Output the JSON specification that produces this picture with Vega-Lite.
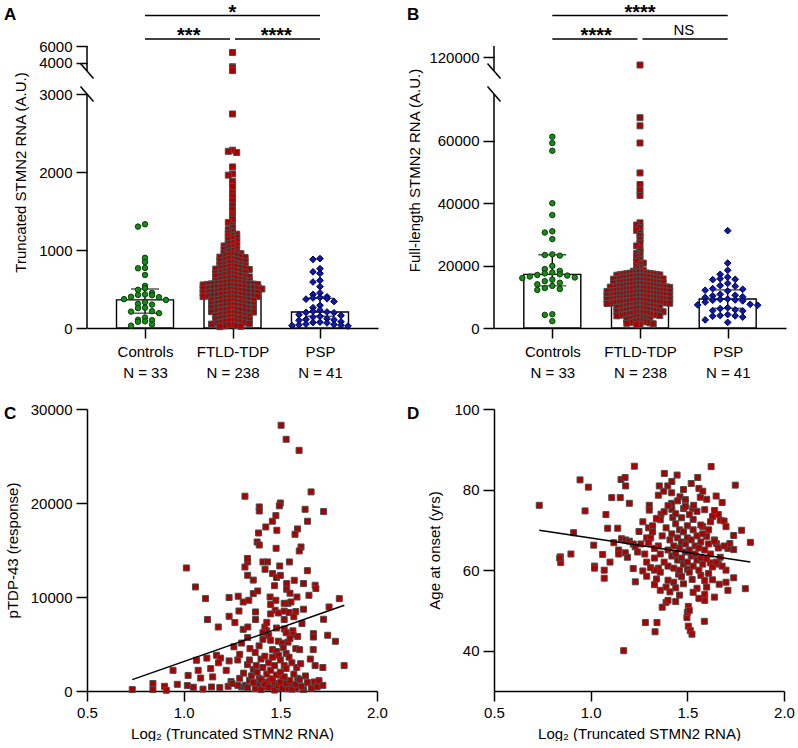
{
"$schema":"https://vega.github.io/schema/vega-lite/v6.json",
"background":"white",
"padding":{"left":4,"top":2,"right":0,"bottom":0},
"config":{"font":"Liberation Sans","view":{"stroke":null},
"axis":{"grid":false,"labelFont":"Liberation Sans","titleFont":"Liberation Sans","labelFontSize":15,"titleFontSize":15,"titleFontWeight":"normal","labelColor":"black","titleColor":"black","tickColor":"black","domainColor":"black","tickWidth":1.5,"domainWidth":1.5,"labelFlush":false,"labelOverlap":false},
"title":{"font":"Liberation Sans","fontSize":17,"fontWeight":"bold","anchor":"start","frame":"group","baseline":"top","offset":-21,"color":"black"},
"text":{"font":"Liberation Sans","color":"black"}},
"datasets":{
"barsA":[{"g":"Controls","med":360,"q1":190,"q3":500},{"g":"FTLD-TDP","med":545,"q1":320,"q3":800},{"g":"PSP","med":205,"q1":150,"q3":380}],
"barsB":[{"g":"Controls","med":17200,"q1":13500,"q3":23500},{"g":"FTLD-TDP","med":11450,"q1":7500,"q3":15500},{"g":"PSP","med":9300,"q1":6300,"q3":12200}],
"aC":[{"v":1330},{"v":1300},{"v":900},{"v":845},{"v":770},{"v":765},{"v":680},{"v":540},{"v":510},{"v":490},{"v":450},{"v":430},{"v":425},{"v":420},{"v":400},{"v":395},{"v":370},{"v":360},{"v":330},{"v":310},{"v":300},{"v":260},{"v":255},{"v":215},{"v":210},{"v":190},{"v":135},{"v":105},{"v":100},{"v":85},{"v":80},{"v":45},{"v":30}],
"aF":[{"v":5235},{"v":3550},{"v":3450},{"v":3100},{"v":2744},{"v":2280},{"v":2265},{"v":2250},{"v":2065},{"v":1975},{"v":1960},{"v":1880},{"v":1815},{"v":1735},{"v":1690},{"v":1630},{"v":1575},{"v":1520},{"v":1460},{"v":1425},
{"v":1395},{"v":1352},{"v":1318},{"v":1290},{"v":1262},{"v":1236},{"v":1214},{"v":1203},
{"v":1188},{"v":1176},{"v":1161},{"v":1147},{"v":1129},{"v":1112},{"v":1095},{"v":1083},{"v":1066},{"v":1052},{"v":1041},{"v":1029},{"v":1013},{"v":1004},
{"v":993},{"v":981},{"v":972},{"v":961},{"v":953},{"v":947},{"v":938},{"v":931},{"v":926},{"v":917},{"v":909},{"v":903},{"v":894},{"v":886},{"v":879},{"v":873},{"v":866},{"v":857},{"v":851},{"v":843},{"v":836},{"v":827},{"v":821},{"v":815},{"v":807},{"v":801},{"v":797},{"v":791},
{"v":786},{"v":779},{"v":775},{"v":767},{"v":763},{"v":755},{"v":751},{"v":744},{"v":739},{"v":735},{"v":727},{"v":723},{"v":715},{"v":711},{"v":704},{"v":699},{"v":695},{"v":687},{"v":683},{"v":675},{"v":671},{"v":664},{"v":659},{"v":655},{"v":647},{"v":643},{"v":637},{"v":631},{"v":626},{"v":619},{"v":615},{"v":607},{"v":603},{"v":597},{"v":595},{"v":589},{"v":585},{"v":581},{"v":577},{"v":575},
{"v":573},{"v":570},{"v":566},{"v":563},{"v":559},{"v":556},{"v":552},{"v":549},{"v":545},{"v":542},{"v":538},{"v":535},{"v":531},{"v":528},{"v":524},{"v":521},{"v":517},{"v":514},{"v":510},{"v":507},{"v":503},{"v":500},{"v":496},{"v":493},{"v":489},{"v":486},{"v":482},{"v":479},{"v":475},{"v":472},{"v":468},{"v":465},{"v":461},{"v":458},{"v":454},{"v":451},{"v":447},{"v":444},{"v":440},{"v":437},{"v":433},{"v":430},{"v":426},{"v":423},{"v":419},{"v":416},{"v":412},{"v":409},{"v":405},{"v":402},
{"v":398},{"v":393},{"v":389},{"v":384},{"v":380},{"v":375},{"v":371},{"v":366},{"v":362},{"v":357},{"v":353},{"v":348},{"v":344},{"v":339},{"v":335},{"v":330},{"v":326},{"v":321},{"v":317},{"v":312},{"v":308},{"v":303},{"v":299},{"v":294},{"v":290},{"v":285},{"v":281},{"v":276},{"v":272},{"v":267},{"v":263},{"v":258},{"v":254},{"v":249},{"v":245},{"v":240},{"v":236},{"v":231},{"v":227},{"v":222},{"v":218},{"v":213},{"v":209},{"v":204},
{"v":198},{"v":193},{"v":187},{"v":182},{"v":176},{"v":171},{"v":165},{"v":160},{"v":154},{"v":149},{"v":143},{"v":138},{"v":132},{"v":127},{"v":121},{"v":116},{"v":110},{"v":105},{"v":99},{"v":94},{"v":88},{"v":83},{"v":77},{"v":72},{"v":66},{"v":61},{"v":55},{"v":50},{"v":44},{"v":39},{"v":33},{"v":28},{"v":22},{"v":17}],
"aP":[{"v":890},{"v":880},{"v":760},{"v":720},{"v":700},{"v":610},{"v":590},{"v":530},{"v":450},{"v":430},{"v":400},{"v":390},{"v":385},{"v":375},{"v":370},{"v":340},{"v":290},{"v":260},{"v":230},{"v":215},{"v":205},{"v":200},{"v":195},{"v":170},{"v":160},{"v":150},{"v":140},{"v":120},{"v":110},{"v":105},{"v":100},{"v":80},{"v":75},{"v":70},{"v":65},{"v":50},{"v":45},{"v":40},{"v":35},{"v":30},{"v":25}],
"bC":[{"v":61300},{"v":59300},{"v":56800},{"v":40000},{"v":36200},{"v":31000},{"v":30600},{"v":28500},{"v":23600},{"v":23400},{"v":23200},{"v":19900},{"v":18900},{"v":18300},{"v":17800},{"v":17500},{"v":17200},{"v":17000},{"v":16800},{"v":16500},{"v":16200},{"v":16000},{"v":15500},{"v":15000},{"v":14500},{"v":14000},{"v":13500},{"v":12800},{"v":12500},{"v":12200},{"v":4400},{"v":4200},{"v":2200}],
"bF":[{"v":116000},{"v":67400},{"v":64800},{"v":59300},{"v":49700},{"v":46000},{"v":44200},{"v":42500},{"v":33700},{"v":33000},{"v":32200},{"v":31300},{"v":30400},{"v":29600},{"v":28400},{"v":27200},{"v":26300},{"v":25400},{"v":24600},{"v":23900},{"v":23300},{"v":22700},{"v":22000},{"v":21400},{"v":20800},{"v":20300},{"v":19800},{"v":19300},{"v":18900},{"v":18500},{"v":18200},
{"v":17960},{"v":17880},{"v":17800},{"v":17720},{"v":17640},{"v":17560},{"v":17480},{"v":17400},{"v":17320},{"v":17240},{"v":17160},{"v":17080},{"v":17000},{"v":16920},{"v":16840},{"v":16760},{"v":16680},{"v":16600},{"v":16520},{"v":16440},{"v":16360},{"v":16280},{"v":16200},{"v":16120},{"v":16040},{"v":15960},{"v":15880},{"v":15800},{"v":15720},{"v":15640},{"v":15560},{"v":15480},{"v":15400},{"v":15320},{"v":15240},{"v":15160},{"v":15080},{"v":15000},{"v":14920},{"v":14840},{"v":14760},{"v":14680},{"v":14600},{"v":14520},{"v":14440},{"v":14360},{"v":14280},{"v":14200},{"v":14120},{"v":14040},
{"v":13960},{"v":13890},{"v":13820},{"v":13760},{"v":13690},{"v":13630},{"v":13560},{"v":13490},{"v":13430},{"v":13360},{"v":13300},{"v":13230},{"v":13160},{"v":13100},{"v":13030},{"v":12970},{"v":12900},{"v":12830},{"v":12770},{"v":12700},{"v":12640},{"v":12570},{"v":12500},{"v":12440},{"v":12370},{"v":12310},{"v":12240},{"v":12170},{"v":12110},{"v":12040},{"v":11980},{"v":11910},{"v":11840},{"v":11780},{"v":11710},{"v":11650},{"v":11580},{"v":11520},
{"v":11450},{"v":11390},{"v":11320},{"v":11260},{"v":11190},{"v":11130},{"v":11070},{"v":11000},{"v":10940},{"v":10870},{"v":10810},{"v":10750},{"v":10680},{"v":10620},{"v":10550},{"v":10490},{"v":10430},{"v":10360},{"v":10300},{"v":10230},{"v":10170},{"v":10110},{"v":10040},{"v":9980},{"v":9910},{"v":9850},{"v":9790},{"v":9720},{"v":9660},{"v":9590},{"v":9530},{"v":9470},{"v":9400},{"v":9340},{"v":9270},{"v":9210},{"v":9150},{"v":9080},{"v":9020},{"v":8950},{"v":8890},{"v":8830},{"v":8760},{"v":8700},{"v":8630},{"v":8570},{"v":8510},{"v":8440},{"v":8380},{"v":8310},{"v":8250},{"v":8190},{"v":8120},{"v":8060},{"v":8000},
{"v":7940},{"v":7850},{"v":7760},{"v":7670},{"v":7580},{"v":7490},{"v":7400},{"v":7300},{"v":7210},{"v":7120},{"v":7030},{"v":6940},{"v":6850},{"v":6760},{"v":6670},{"v":6580},{"v":6490},{"v":6400},{"v":6300},{"v":6210},{"v":6120},{"v":6030},{"v":5940},{"v":5850},{"v":5760},{"v":5670},{"v":5580},{"v":5490},{"v":5400},{"v":5300},{"v":5210},{"v":5120},{"v":5030},{"v":4940},{"v":4850},{"v":4760},{"v":4670},{"v":4580},{"v":4490},{"v":4400},{"v":4300},{"v":4210},{"v":4120},{"v":4030},
{"v":3900},{"v":3750},{"v":3600},{"v":3450},{"v":3300},{"v":3150},{"v":3000},{"v":2850},{"v":2700},{"v":2550},{"v":2400},{"v":2250},{"v":2100},{"v":1950},{"v":1800},{"v":1650},{"v":1500},{"v":1350},{"v":1200},{"v":1050}],
"bP":[{"v":31200},{"v":20800},{"v":18500},{"v":17200},{"v":16300},{"v":15800},{"v":15600},{"v":15500},{"v":14300},{"v":13600},{"v":13400},{"v":12600},{"v":12400},{"v":12100},{"v":11900},{"v":10800},{"v":10500},{"v":10300},{"v":10000},{"v":9800},{"v":9300},{"v":9200},{"v":9000},{"v":8900},{"v":8700},{"v":8300},{"v":7600},{"v":7400},{"v":7300},{"v":6500},{"v":6200},{"v":5800},{"v":5600},{"v":5500},{"v":4300},{"v":4000},{"v":3900},{"v":3800},{"v":3500},{"v":2600},{"v":1800}],
"c":[{"x":1.504,"y":28270},{"x":1.53,"y":26780},{"x":1.597,"y":25600},{"x":1.659,"y":21180},{"x":1.317,"y":20720},{"x":1.5,"y":20000},{"x":1.495,"y":19700},{"x":1.391,"y":19580},{"x":1.391,"y":19150},{"x":1.628,"y":19330},{"x":1.724,"y":19090},{"x":1.477,"y":18660},{"x":1.459,"y":18060},{"x":1.641,"y":18060},{"x":1.425,"y":17450},{"x":1.589,"y":17240},{"x":1.482,"y":17100},{"x":1.387,"y":16810},{"x":1.576,"y":16670},{"x":1.38,"y":15850},{"x":1.391,"y":15530},{"x":1.478,"y":15180},{"x":1.607,"y":15320},{"x":1.598,"y":14900},{"x":1.331,"y":13730},{"x":1.317,"y":13190},{"x":1.014,"y":13090},{"x":1.41,"y":13730},{"x":1.434,"y":13730},{"x":1.421,"y":12950},{"x":1.497,"y":13300},{"x":1.547,"y":13730},{"x":1.33,"y":14100},{"x":1.331,"y":12310},{"x":1.46,"y":12490},{"x":1.48,"y":12070},{"x":1.061,"y":11070},{"x":1.533,"y":11430},{"x":1.533,"y":10820},{"x":1.572,"y":11780},{"x":1.62,"y":11430},{"x":1.68,"y":11250},{"x":1.684,"y":10900},{"x":1.113,"y":9830},{"x":1.235,"y":9940},{"x":1.282,"y":10080},{"x":1.308,"y":9470},{"x":1.337,"y":9650},{"x":1.36,"y":10360},{"x":1.383,"y":10640},{"x":1.447,"y":10000},{"x":1.477,"y":9650},{"x":1.52,"y":9330},{"x":1.54,"y":9330},{"x":1.555,"y":9470},{"x":1.586,"y":10000},{"x":1.473,"y":8590},{"x":1.648,"y":10180},{"x":1.752,"y":8940},{"x":1.805,"y":9830},{"x":1.123,"y":7600},{"x":1.179,"y":6810},{"x":1.235,"y":7950},{"x":1.286,"y":8510},{"x":1.265,"y":7280},{"x":1.372,"y":8410},{"x":1.372,"y":7600},{"x":1.45,"y":8200},{"x":1.49,"y":8300},{"x":1.52,"y":8500},{"x":1.545,"y":8350},{"x":1.58,"y":8450},{"x":1.612,"y":7170},{"x":1.724,"y":7630},{"x":1.308,"y":6560},{"x":1.332,"y":6810},{"x":1.42,"y":6800},{"x":1.43,"y":6400},{"x":1.44,"y":5900},{"x":1.48,"y":6700},{"x":1.52,"y":6600},{"x":1.53,"y":6200},{"x":1.565,"y":6400},{"x":1.565,"y":6000},{"x":1.671,"y":6100},{"x":1.671,"y":5740},{"x":1.745,"y":5930},{"x":1.785,"y":5290},{"x":1.331,"y":5680},{"x":1.41,"y":5500},{"x":1.45,"y":5400},{"x":1.49,"y":5300},{"x":1.51,"y":5100},{"x":1.54,"y":5200},{"x":1.55,"y":5600},{"x":1.343,"y":4510},{"x":1.46,"y":4400},{"x":1.48,"y":4200},{"x":1.515,"y":4600},{"x":1.53,"y":4000},{"x":1.58,"y":4500},{"x":1.6,"y":4400},{"x":1.67,"y":4400},{"x":1.066,"y":3270},{"x":1.075,"y":2200},{"x":1.17,"y":3800},{"x":1.19,"y":3500},{"x":1.18,"y":3000},{"x":1.235,"y":3200},{"x":1.28,"y":3300},{"x":1.29,"y":3900},{"x":1.33,"y":2800},{"x":1.36,"y":2300},{"x":1.375,"y":2700},{"x":1.4,"y":3400},{"x":1.42,"y":3700},{"x":1.44,"y":3000},{"x":1.46,"y":3600},{"x":1.49,"y":3800},{"x":1.5,"y":3300},{"x":1.52,"y":2700},{"x":1.545,"y":3600},{"x":1.56,"y":3000},{"x":1.585,"y":2500},{"x":1.605,"y":2900},{"x":1.655,"y":3400},{"x":1.68,"y":2700},{"x":1.72,"y":2500},{"x":1.83,"y":2700},{"x":0.945,"y":2200},{"x":1.023,"y":1660},{"x":1.088,"y":1380},{"x":1.14,"y":2380},{"x":0.841,"y":790},{"x":0.841,"y":150},{"x":0.901,"y":500},{"x":0.967,"y":710},{"x":1.019,"y":575},{"x":0.91,"y":80},{"x":0.734,"y":150},
{"x":1.144,"y":430},{"x":1.187,"y":360},{"x":1.23,"y":500},{"x":1.245,"y":1000},{"x":1.29,"y":1350},{"x":1.3,"y":430},{"x":1.32,"y":610},{"x":1.34,"y":1140},{"x":1.37,"y":250},{"x":1.385,"y":800},{"x":1.39,"y":1350},{"x":1.415,"y":430},{"x":1.43,"y":960},{"x":1.45,"y":1140},{"x":1.47,"y":790},{"x":1.48,"y":360},{"x":1.51,"y":1350},{"x":1.537,"y":250},{"x":1.555,"y":610},{"x":1.58,"y":250},{"x":1.59,"y":1350},{"x":1.62,"y":150},{"x":1.675,"y":960},{"x":1.69,"y":430},
{"x":1.28,"y":600},{"x":1.31,"y":1900},{"x":1.33,"y":350},{"x":1.35,"y":1600},{"x":1.36,"y":900},{"x":1.38,"y":2000},{"x":1.4,"y":150},{"x":1.4,"y":1200},{"x":1.41,"y":2500},{"x":1.42,"y":700},{"x":1.43,"y":1800},{"x":1.44,"y":400},{"x":1.45,"y":2200},{"x":1.46,"y":1300},{"x":1.47,"y":100},{"x":1.47,"y":2700},{"x":1.48,"y":1700},{"x":1.49,"y":600},{"x":1.5,"y":2000},{"x":1.5,"y":900},{"x":1.51,"y":300},{"x":1.52,"y":1500},{"x":1.53,"y":800},{"x":1.53,"y":2400},{"x":1.55,"y":1100},{"x":1.56,"y":200},{"x":1.57,"y":1800},{"x":1.58,"y":700},{"x":1.6,"y":1200},{"x":1.61,"y":500},{"x":1.63,"y":1600},{"x":1.64,"y":900},{"x":1.66,"y":300},{"x":1.7,"y":1100},{"x":1.72,"y":600},{"x":1.34,"y":3300},{"x":1.37,"y":4100},{"x":1.39,"y":4800},{"x":1.41,"y":6200},{"x":1.43,"y":7300},{"x":1.45,"y":9200},{"x":1.47,"y":11200},{"x":1.5,"y":12300},{"x":1.52,"y":7600},{"x":1.55,"y":10400},{"x":1.57,"y":7900},{"x":1.59,"y":5800},{"x":1.62,"y":8700},{"x":1.64,"y":12800},{"x":1.36,"y":11800},{"x":1.3,"y":5100},{"x":1.26,"y":4700},{"x":1.22,"y":2200},{"x":1.25,"y":800},{"x":1.15,"y":1500},{"x":1.12,"y":3500},{"x":1.05,"y":400},{"x":1.1,"y":200}],
"d":[{"x":0.734,"y":76.1},{"x":0.945,"y":82.4},{"x":0.988,"y":80.6},{"x":0.971,"y":74.7},{"x":0.912,"y":69.3},{"x":1.016,"y":66.2},{"x":0.843,"y":63.3},{"x":0.845,"y":61.9},{"x":0.898,"y":64},{"x":1.062,"y":63.9},{"x":1.109,"y":78},{"x":1.153,"y":78},{"x":1.079,"y":73.8},{"x":1.088,"y":70.4},{"x":1.14,"y":70.4},{"x":1.157,"y":82.5},{"x":1.178,"y":83},{"x":1.181,"y":80.9},{"x":1.2,"y":76.6},{"x":1.16,"y":67.8},{"x":1.18,"y":67.5},{"x":1.2,"y":67.2},{"x":1.22,"y":66.5},{"x":1.23,"y":65.8},{"x":1.145,"y":65},{"x":1.145,"y":64},{"x":1.179,"y":64.3},{"x":1.226,"y":85.8},{"x":1.243,"y":64.5},{"x":1.29,"y":68},{"x":1.31,"y":68},{"x":1.3,"y":70.5},{"x":1.32,"y":71},{"x":1.32,"y":69.5},{"x":1.303,"y":76.1},{"x":1.303,"y":74.9},{"x":1.364,"y":73.9},{"x":1.29,"y":62},{"x":1.33,"y":63},{"x":1.35,"y":60.5},{"x":1.355,"y":80.9},{"x":1.381,"y":84},{"x":1.399,"y":80.9},{"x":1.378,"y":79.6},{"x":1.419,"y":79.2},{"x":1.419,"y":76.6},{"x":1.42,"y":75.1},{"x":1.425,"y":73.1},{"x":1.447,"y":83.6},{"x":1.462,"y":78.2},{"x":1.481,"y":75.3},{"x":1.49,"y":75.8},{"x":1.528,"y":75.3},{"x":1.533,"y":76.1},{"x":1.554,"y":83},{"x":1.56,"y":80.3},{"x":1.567,"y":78.1},{"x":1.623,"y":85.7},{"x":1.649,"y":78.4},{"x":1.66,"y":73.8},{"x":1.67,"y":72.4},{"x":1.748,"y":81.1},{"x":1.781,"y":69.9},{"x":1.826,"y":66.9},{"x":1.69,"y":72.2},{"x":1.71,"y":65.4},{"x":1.72,"y":66.6},{"x":1.74,"y":65.1},{"x":1.6,"y":68.4},{"x":1.61,"y":70},{"x":1.63,"y":73.3},{"x":1.64,"y":67.5},{"x":1.65,"y":66.6},{"x":1.58,"y":70.8},
{"x":1.171,"y":40},{"x":1.283,"y":47},{"x":1.343,"y":47},{"x":1.333,"y":44.7},{"x":1.588,"y":47.3},{"x":1.498,"y":48.2},{"x":1.505,"y":46.1},{"x":1.515,"y":45},{"x":1.524,"y":44.1},{"x":1.5,"y":49.5},{"x":1.505,"y":51},{"x":1.51,"y":50},{"x":1.39,"y":52},{"x":1.44,"y":52.2},{"x":1.4,"y":52.5},{"x":1.37,"y":50.8},{"x":1.59,"y":52.5},{"x":1.59,"y":54},{"x":1.64,"y":53.3},{"x":1.665,"y":56.5},{"x":1.7,"y":57},{"x":1.8,"y":55.4},{"x":1.71,"y":55},{"x":1.231,"y":57.1},{"x":1.27,"y":59.8},{"x":1.29,"y":58.5},{"x":1.33,"y":60},{"x":1.33,"y":56.4},{"x":1.36,"y":59.5},{"x":1.39,"y":55.8},{"x":1.4,"y":57.5},{"x":1.43,"y":57},{"x":1.455,"y":59},{"x":1.47,"y":58.4},{"x":1.5,"y":60.2},{"x":1.525,"y":57.7},{"x":1.55,"y":55.5},{"x":1.57,"y":58.7},{"x":1.59,"y":57.4},{"x":1.61,"y":59.2},{"x":1.62,"y":61.8},{"x":1.66,"y":61.5},{"x":1.7,"y":60},{"x":1.74,"y":58.1},{"x":1.02,"y":61},{"x":1.02,"y":60.5},{"x":1.07,"y":60},{"x":1.07,"y":58},{"x":0.84,"y":63},
{"x":1.35,"y":66},{"x":1.36,"y":64},{"x":1.37,"y":68.5},{"x":1.38,"y":62},{"x":1.39,"y":70.5},{"x":1.4,"y":65},{"x":1.4,"y":61},{"x":1.41,"y":67.5},{"x":1.42,"y":63.5},{"x":1.42,"y":69},{"x":1.43,"y":60.5},{"x":1.43,"y":66},{"x":1.44,"y":71.5},{"x":1.44,"y":64},{"x":1.45,"y":68},{"x":1.45,"y":62.5},{"x":1.46,"y":70},{"x":1.46,"y":65.5},{"x":1.46,"y":60},{"x":1.47,"y":67},{"x":1.47,"y":63},{"x":1.48,"y":69.5},{"x":1.48,"y":61.5},{"x":1.49,"y":66.5},{"x":1.49,"y":64.5},{"x":1.5,"y":71},{"x":1.5,"y":68},{"x":1.5,"y":62},{"x":1.51,"y":65},{"x":1.51,"y":59.5},{"x":1.52,"y":67.5},{"x":1.52,"y":63.5},{"x":1.53,"y":70},{"x":1.53,"y":61},{"x":1.54,"y":66},{"x":1.54,"y":64},{"x":1.55,"y":68.5},{"x":1.55,"y":62.5},{"x":1.56,"y":65.5},{"x":1.56,"y":60},{"x":1.57,"y":67},{"x":1.57,"y":63},{"x":1.58,"y":69},{"x":1.58,"y":61.5},{"x":1.59,"y":65},{"x":1.6,"y":62.8},{"x":1.61,"y":66.5},{"x":1.62,"y":64},{"x":1.63,"y":60.8},{"x":1.64,"y":67.2},{"x":1.65,"y":62},{"x":1.66,"y":65.5},{"x":1.67,"y":63.2},{"x":1.68,"y":61},{"x":1.69,"y":66},{"x":1.36,"y":72.5},{"x":1.38,"y":74.5},{"x":1.4,"y":76},{"x":1.44,"y":74},{"x":1.47,"y":73},{"x":1.49,"y":77.5},{"x":1.51,"y":73.8},{"x":1.53,"y":72.6},{"x":1.55,"y":74.6},{"x":1.57,"y":71.2},{"x":1.59,"y":75},{"x":1.6,"y":77.6},{"x":1.62,"y":72},{"x":1.64,"y":74.8},{"x":1.68,"y":76.8},{"x":1.34,"y":57.8},{"x":1.36,"y":55},{"x":1.41,"y":54.6},{"x":1.44,"y":55.6},{"x":1.46,"y":53.8},{"x":1.48,"y":56.6},{"x":1.53,"y":54.5},{"x":1.56,"y":53},{"x":1.6,"y":55.8},{"x":1.63,"y":57.6},{"x":1.26,"y":66.5},{"x":1.27,"y":72},{"x":1.28,"y":64},{"x":1.3,"y":66.8},{"x":1.31,"y":60.6},{"x":1.33,"y":65.4},{"x":1.34,"y":72.8},{"x":1.25,"y":69.6},{"x":1.22,"y":60.4},{"x":1.19,"y":63.2},{"x":1.12,"y":66.8},{"x":1.1,"y":62},{"x":1.48,"y":80},{"x":1.52,"y":81.5},{"x":1.42,"y":82},{"x":1.58,"y":79.6},{"x":1.35,"y":78.6},{"x":1.45,"y":77.2},{"x":1.7,"y":70.8},{"x":1.74,"y":68.6}]
},
"columns":2,
"bounds":"flush",
"spacing":{"row":81,"column":116},
"concat":[
{"title":{"text":"A","dx":-83},"width":291,"height":324,
"resolve":{"scale":{"x":"independent","y":"independent","xOffset":"independent"}},
"layer":[
{"data":{"name":"barsA"},"mark":{"type":"bar","width":57,"fill":"white","stroke":"black","strokeWidth":1.4},
"encoding":{"x":{"field":"g","type":"nominal","scale":{"type":"point","domain":["Controls","FTLD-TDP","PSP"],"padding":0.663},"axis":{"title":null,"labelAngle":0,"labelExpr":"datum.value == 'Controls' ? ['Controls', 'N = 33'] : datum.value == 'FTLD-TDP' ? ['FTLD-TDP', 'N = 238'] : ['PSP', 'N = 41']","labelLineHeight":21.5,"tickSize":10,"labelPadding":6}},
"y":{"field":"med","type":"quantitative","scale":{"domain":[0,3000,3050,6000],"range":[324,90,67,42],"nice":false,"zero":false},"axis":{"title":"Truncated STMN2 RNA (A.U.)","titleY":168,"values":[0,1000,2000,3000,4000,6000],"format":"d","domain":false,"tickSize":11,"labelPadding":4,"titlePadding":10}},
"y2":{"datum":0}}},
{"data":{"name":"barsA"},"mark":{"type":"rule","strokeWidth":1.4,"color":"black"},
"encoding":{"x":{"field":"g","type":"nominal","scale":{"type":"point","domain":["Controls","FTLD-TDP","PSP"],"padding":0.663},"axis":null},
"y":{"field":"q1","type":"quantitative","scale":{"domain":[0,3000,3050,6000],"range":[324,90,67,42],"nice":false,"zero":false},"axis":null},"y2":{"field":"q3"}}},
{"data":{"name":"barsA"},"transform":[{"fold":["q1","q3"],"as":["k","val"]}],"mark":{"type":"tick","orient":"horizontal","size":28,"thickness":1.4,"color":"black"},
"encoding":{"x":{"field":"g","type":"nominal","scale":{"type":"point","domain":["Controls","FTLD-TDP","PSP"],"padding":0.663},"axis":null},
"y":{"field":"val","type":"quantitative","scale":{"domain":[0,3000,3050,6000],"range":[324,90,67,42],"nice":false,"zero":false},"axis":null}}},
{"data":{"name":"aC"},"transform":[{"bin":{"step":90},"field":"v","as":"b"},{"window":[{"op":"row_number","as":"r"}],"groupby":["b"]}],
"mark":{"type":"point","shape":"circle","filled":true,"size":30,"fill":"#178a17","stroke":"#0a3d0a","strokeWidth":1,"opacity":1},
"encoding":{"x":{"datum":"Controls","type":"nominal","scale":{"type":"point","domain":["Controls","FTLD-TDP","PSP"],"padding":0.663},"axis":null},
"xOffset":{"field":"r","type":"ordinal","scale":{"type":"point","padding":0,"domain":[30,28,26,24,22,20,18,16,14,12,10,8,6,4,2,1,3,5,7,9,11,13,15,17,19,21,23,25,27,29,31],"range":[-105,105]}},
"y":{"field":"v","type":"quantitative","scale":{"domain":[0,3000,3050,6000],"range":[324,90,67,42],"nice":false,"zero":false},"axis":null}}},
{"data":{"name":"aF"},"transform":[{"bin":{"step":50},"field":"v","as":"b"},{"window":[{"op":"row_number","as":"r"}],"groupby":["b"]}],
"mark":{"type":"point","shape":"square","filled":true,"size":36,"fill":"#aa0000","stroke":"#4d4d4d","strokeWidth":1,"opacity":1},
"encoding":{"x":{"datum":"FTLD-TDP","type":"nominal","scale":{"type":"point","domain":["Controls","FTLD-TDP","PSP"],"padding":0.663},"axis":null},
"xOffset":{"field":"r","type":"ordinal","scale":{"type":"point","padding":0,"domain":[30,28,26,24,22,20,18,16,14,12,10,8,6,4,2,1,3,5,7,9,11,13,15,17,19,21,23,25,27,29,31],"range":[-63,63]}},
"y":{"field":"v","type":"quantitative","scale":{"domain":[0,3000,3050,6000],"range":[324,90,67,42],"nice":false,"zero":false},"axis":null}}},
{"data":{"name":"aP"},"transform":[{"bin":{"step":80},"field":"v","as":"b"},{"window":[{"op":"row_number","as":"r"}],"groupby":["b"]}],
"mark":{"type":"point","shape":"diamond","filled":true,"size":45,"fill":"#0d1aa8","stroke":"#000050","strokeWidth":1,"opacity":1},
"encoding":{"x":{"datum":"PSP","type":"nominal","scale":{"type":"point","domain":["Controls","FTLD-TDP","PSP"],"padding":0.663},"axis":null},
"xOffset":{"field":"r","type":"ordinal","scale":{"type":"point","padding":0,"domain":[30,28,26,24,22,20,18,16,14,12,10,8,6,4,2,1,3,5,7,9,11,13,15,17,19,21,23,25,27,29,31],"range":[-105,105]}},
"y":{"field":"v","type":"quantitative","scale":{"domain":[0,3000,3050,6000],"range":[324,90,67,42],"nice":false,"zero":false},"axis":null}}},
{"data":{"values":[{"lo":0,"hi":3000},{"lo":3050,"hi":6000}]},"mark":{"type":"rule","strokeWidth":1.5,"color":"black"},
"encoding":{"x":{"datum":0.337,"type":"quantitative","scale":{"domain":[0.337,3.663],"nice":false,"zero":false},"axis":null},
"y":{"field":"lo","type":"quantitative","scale":{"domain":[0,3000,3050,6000],"range":[324,90,67,42],"nice":false,"zero":false},"axis":null},"y2":{"field":"hi"}}},
{"data":{"values":[{"at":3050},{"at":3000}]},"mark":{"type":"rule","strokeWidth":1.5,"color":"black","xOffset":-6.5,"x2Offset":6.5,"yOffset":-7.5,"y2Offset":7.5},
"encoding":{"x":{"datum":0.337,"type":"quantitative","scale":{"domain":[0.337,3.663],"nice":false,"zero":false},"axis":null},"x2":{"datum":0.337},
"y":{"field":"at","type":"quantitative","scale":{"domain":[0,3000,3050,6000],"range":[324,90,67,42],"nice":false,"zero":false},"axis":null},"y2":{"field":"at"}}},
{"data":{"values":[{"a":1,"b":3,"lv":2}]},"mark":{"type":"rule","strokeWidth":1.5,"color":"black"},
"encoding":{"x":{"field":"a","type":"quantitative","scale":{"domain":[0.337,3.663],"nice":false,"zero":false},"axis":null},"x2":{"field":"b"},
"y":{"field":"lv","type":"quantitative","scale":{"domain":[1,2],"range":[35,11.5],"nice":false,"zero":false},"axis":null}}},
{"data":{"values":[{"a":1,"b":2,"lv":1}]},"mark":{"type":"rule","strokeWidth":1.5,"color":"black","x2Offset":-2.5},
"encoding":{"x":{"field":"a","type":"quantitative","scale":{"domain":[0.337,3.663],"nice":false,"zero":false},"axis":null},"x2":{"field":"b"},
"y":{"field":"lv","type":"quantitative","scale":{"domain":[1,2],"range":[35,11.5],"nice":false,"zero":false},"axis":null}}},
{"data":{"values":[{"a":2,"b":3,"lv":1}]},"mark":{"type":"rule","strokeWidth":1.5,"color":"black","xOffset":2.5},
"encoding":{"x":{"field":"a","type":"quantitative","scale":{"domain":[0.337,3.663],"nice":false,"zero":false},"axis":null},"x2":{"field":"b"},
"y":{"field":"lv","type":"quantitative","scale":{"domain":[1,2],"range":[35,11.5],"nice":false,"zero":false},"axis":null}}},
{"data":{"values":[{"m":2,"lv":2,"lab":"*"},{"m":1.5,"lv":1,"lab":"***"},{"m":2.5,"lv":1,"lab":"****"}]},"mark":{"type":"text","fontSize":20,"fontWeight":"bold","baseline":"alphabetic","dy":3},
"encoding":{"x":{"field":"m","type":"quantitative","scale":{"domain":[0.337,3.663],"nice":false,"zero":false},"axis":null},
"y":{"field":"lv","type":"quantitative","scale":{"domain":[1,2],"range":[35,11.5],"nice":false,"zero":false},"axis":null},"text":{"field":"lab"}}}
]},
{"title":{"text":"B","dx":-87},"width":292,"height":324,
"resolve":{"scale":{"x":"independent","y":"independent","xOffset":"independent"}},
"layer":[
{"data":{"name":"barsB"},"mark":{"type":"bar","width":57,"fill":"white","stroke":"black","strokeWidth":1.4},
"encoding":{"x":{"field":"g","type":"nominal","scale":{"type":"point","domain":["Controls","FTLD-TDP","PSP"],"padding":0.665},"axis":{"title":null,"labelAngle":0,"labelExpr":"datum.value == 'Controls' ? ['Controls', 'N = 33'] : datum.value == 'FTLD-TDP' ? ['FTLD-TDP', 'N = 238'] : ['PSP', 'N = 41']","labelLineHeight":21.5,"tickSize":10,"labelPadding":6}},
"y":{"field":"med","type":"quantitative","scale":{"domain":[0,75000,113000,125500],"range":[324,90,67,42],"nice":false,"zero":false},"axis":{"title":"Full-length STMN2 RNA (A.U.)","titleY":166,"values":[0,20000,40000,60000,120000],"format":"d","domain":false,"tickSize":11,"labelPadding":4,"titlePadding":6}},
"y2":{"datum":0}}},
{"data":{"name":"barsB"},"mark":{"type":"rule","strokeWidth":1.4,"color":"black"},
"encoding":{"x":{"field":"g","type":"nominal","scale":{"type":"point","domain":["Controls","FTLD-TDP","PSP"],"padding":0.665},"axis":null},
"y":{"field":"q1","type":"quantitative","scale":{"domain":[0,75000,113000,125500],"range":[324,90,67,42],"nice":false,"zero":false},"axis":null},"y2":{"field":"q3"}}},
{"data":{"name":"barsB"},"transform":[{"fold":["q1","q3"],"as":["k","val"]}],"mark":{"type":"tick","orient":"horizontal","size":28,"thickness":1.4,"color":"black"},
"encoding":{"x":{"field":"g","type":"nominal","scale":{"type":"point","domain":["Controls","FTLD-TDP","PSP"],"padding":0.665},"axis":null},
"y":{"field":"val","type":"quantitative","scale":{"domain":[0,75000,113000,125500],"range":[324,90,67,42],"nice":false,"zero":false},"axis":null}}},
{"data":{"name":"bC"},"transform":[{"bin":{"step":2000},"field":"v","as":"b"},{"window":[{"op":"row_number","as":"r"}],"groupby":["b"]}],
"mark":{"type":"point","shape":"circle","filled":true,"size":30,"fill":"#178a17","stroke":"#0a3d0a","strokeWidth":1,"opacity":1},
"encoding":{"x":{"datum":"Controls","type":"nominal","scale":{"type":"point","domain":["Controls","FTLD-TDP","PSP"],"padding":0.665},"axis":null},
"xOffset":{"field":"r","type":"ordinal","scale":{"type":"point","padding":0,"domain":[30,28,26,24,22,20,18,16,14,12,10,8,6,4,2,1,3,5,7,9,11,13,15,17,19,21,23,25,27,29,31],"range":[-112.5,112.5]}},
"y":{"field":"v","type":"quantitative","scale":{"domain":[0,75000,113000,125500],"range":[324,90,67,42],"nice":false,"zero":false},"axis":null}}},
{"data":{"name":"bF"},"transform":[{"bin":{"step":1300},"field":"v","as":"b"},{"window":[{"op":"row_number","as":"r"}],"groupby":["b"]}],
"mark":{"type":"point","shape":"square","filled":true,"size":36,"fill":"#aa0000","stroke":"#4d4d4d","strokeWidth":1,"opacity":1},
"encoding":{"x":{"datum":"FTLD-TDP","type":"nominal","scale":{"type":"point","domain":["Controls","FTLD-TDP","PSP"],"padding":0.665},"axis":null},
"xOffset":{"field":"r","type":"ordinal","scale":{"type":"point","padding":0,"domain":[30,28,26,24,22,20,18,16,14,12,10,8,6,4,2,1,3,5,7,9,11,13,15,17,19,21,23,25,27,29,31],"range":[-49.5,49.5]}},
"y":{"field":"v","type":"quantitative","scale":{"domain":[0,75000,113000,125500],"range":[324,90,67,42],"nice":false,"zero":false},"axis":null}}},
{"data":{"name":"bP"},"transform":[{"bin":{"step":2400},"field":"v","as":"b"},{"window":[{"op":"row_number","as":"r"}],"groupby":["b"]}],
"mark":{"type":"point","shape":"diamond","filled":true,"size":45,"fill":"#0d1aa8","stroke":"#000050","strokeWidth":1,"opacity":1},
"encoding":{"x":{"datum":"PSP","type":"nominal","scale":{"type":"point","domain":["Controls","FTLD-TDP","PSP"],"padding":0.665},"axis":null},
"xOffset":{"field":"r","type":"ordinal","scale":{"type":"point","padding":0,"domain":[30,28,26,24,22,20,18,16,14,12,10,8,6,4,2,1,3,5,7,9,11,13,15,17,19,21,23,25,27,29,31],"range":[-112.5,112.5]}},
"y":{"field":"v","type":"quantitative","scale":{"domain":[0,75000,113000,125500],"range":[324,90,67,42],"nice":false,"zero":false},"axis":null}}},
{"data":{"values":[{"lo":0,"hi":75000},{"lo":113000,"hi":125500}]},"mark":{"type":"rule","strokeWidth":1.5,"color":"black"},
"encoding":{"x":{"datum":0.335,"type":"quantitative","scale":{"domain":[0.335,3.665],"nice":false,"zero":false},"axis":null},
"y":{"field":"lo","type":"quantitative","scale":{"domain":[0,75000,113000,125500],"range":[324,90,67,42],"nice":false,"zero":false},"axis":null},"y2":{"field":"hi"}}},
{"data":{"values":[{"at":113000},{"at":75000}]},"mark":{"type":"rule","strokeWidth":1.5,"color":"black","xOffset":-6.5,"x2Offset":6.5,"yOffset":-7.5,"y2Offset":7.5},
"encoding":{"x":{"datum":0.335,"type":"quantitative","scale":{"domain":[0.335,3.665],"nice":false,"zero":false},"axis":null},"x2":{"datum":0.335},
"y":{"field":"at","type":"quantitative","scale":{"domain":[0,75000,113000,125500],"range":[324,90,67,42],"nice":false,"zero":false},"axis":null},"y2":{"field":"at"}}},
{"data":{"values":[{"a":1,"b":3,"lv":2}]},"mark":{"type":"rule","strokeWidth":1.5,"color":"black"},
"encoding":{"x":{"field":"a","type":"quantitative","scale":{"domain":[0.335,3.665],"nice":false,"zero":false},"axis":null},"x2":{"field":"b"},
"y":{"field":"lv","type":"quantitative","scale":{"domain":[1,2],"range":[35,11.5],"nice":false,"zero":false},"axis":null}}},
{"data":{"values":[{"a":1,"b":2,"lv":1}]},"mark":{"type":"rule","strokeWidth":1.5,"color":"black","x2Offset":-2.5},
"encoding":{"x":{"field":"a","type":"quantitative","scale":{"domain":[0.335,3.665],"nice":false,"zero":false},"axis":null},"x2":{"field":"b"},
"y":{"field":"lv","type":"quantitative","scale":{"domain":[1,2],"range":[35,11.5],"nice":false,"zero":false},"axis":null}}},
{"data":{"values":[{"a":2,"b":3,"lv":1}]},"mark":{"type":"rule","strokeWidth":1.5,"color":"black","xOffset":2.5},
"encoding":{"x":{"field":"a","type":"quantitative","scale":{"domain":[0.335,3.665],"nice":false,"zero":false},"axis":null},"x2":{"field":"b"},
"y":{"field":"lv","type":"quantitative","scale":{"domain":[1,2],"range":[35,11.5],"nice":false,"zero":false},"axis":null}}},
{"data":{"values":[{"m":2,"lv":2,"lab":"****"},{"m":1.5,"lv":1,"lab":"****"}]},"mark":{"type":"text","fontSize":20,"fontWeight":"bold","baseline":"alphabetic","dy":3},
"encoding":{"x":{"field":"m","type":"quantitative","scale":{"domain":[0.335,3.665],"nice":false,"zero":false},"axis":null},
"y":{"field":"lv","type":"quantitative","scale":{"domain":[1,2],"range":[35,11.5],"nice":false,"zero":false},"axis":null},"text":{"field":"lab"}}},
{"data":{"values":[{"m":2.5,"lv":1,"lab":"NS"}]},"mark":{"type":"text","fontSize":15,"baseline":"alphabetic","dy":-4},
"encoding":{"x":{"field":"m","type":"quantitative","scale":{"domain":[0.335,3.665],"nice":false,"zero":false},"axis":null},
"y":{"field":"lv","type":"quantitative","scale":{"domain":[1,2],"range":[35,11.5],"nice":false,"zero":false},"axis":null},"text":{"field":"lab"}}}
]},
{"title":{"text":"C","dx":-83},"width":290,"height":282,
"layer":[
{"data":{"name":"c"},"mark":{"type":"point","shape":"square","filled":true,"size":36,"fill":"#aa0000","stroke":"#4d4d4d","strokeWidth":1,"opacity":1},
"encoding":{"x":{"field":"x","type":"quantitative","scale":{"domain":[0.5,2],"nice":false,"zero":false},"axis":{"title":"Log₂ (Truncated STMN2 RNA)","values":[0.5,1,1.5,2],"format":".1f","tickSize":10,"labelPadding":4,"titlePadding":6}},
"y":{"field":"y","type":"quantitative","scale":{"domain":[0,30000],"nice":false},"axis":{"title":"pTDP-43 (response)","values":[0,10000,20000,30000],"format":"d","tickSize":11,"labelPadding":4,"titlePadding":10}}}},
{"data":{"values":[{"x":0.734,"y":1210},{"x":1.831,"y":9120}]},"mark":{"type":"line","color":"black","strokeWidth":1.5},
"encoding":{"x":{"field":"x","type":"quantitative"},"y":{"field":"y","type":"quantitative"}}}
]},
{"title":{"text":"D","dx":-87},"width":290,"height":282,
"layer":[
{"data":{"name":"d"},"mark":{"type":"point","shape":"square","filled":true,"size":36,"fill":"#aa0000","stroke":"#4d4d4d","strokeWidth":1,"opacity":1},
"encoding":{"x":{"field":"x","type":"quantitative","scale":{"domain":[0.5,2],"nice":false,"zero":false},"axis":{"title":"Log₂ (Truncated STMN2 RNA)","values":[0.5,1,1.5,2],"format":".1f","tickSize":10,"labelPadding":4,"titlePadding":6}},
"y":{"field":"y","type":"quantitative","scale":{"domain":[30,100],"nice":false,"zero":false},"axis":{"title":"Age at onset (yrs)","values":[40,60,80,100],"format":"d","tickSize":11,"labelPadding":4,"titlePadding":11}}}},
{"data":{"values":[{"x":0.734,"y":69.9},{"x":1.826,"y":62}]},"mark":{"type":"line","color":"black","strokeWidth":1.5},
"encoding":{"x":{"field":"x","type":"quantitative"},"y":{"field":"y","type":"quantitative"}}}
]}
]
}
